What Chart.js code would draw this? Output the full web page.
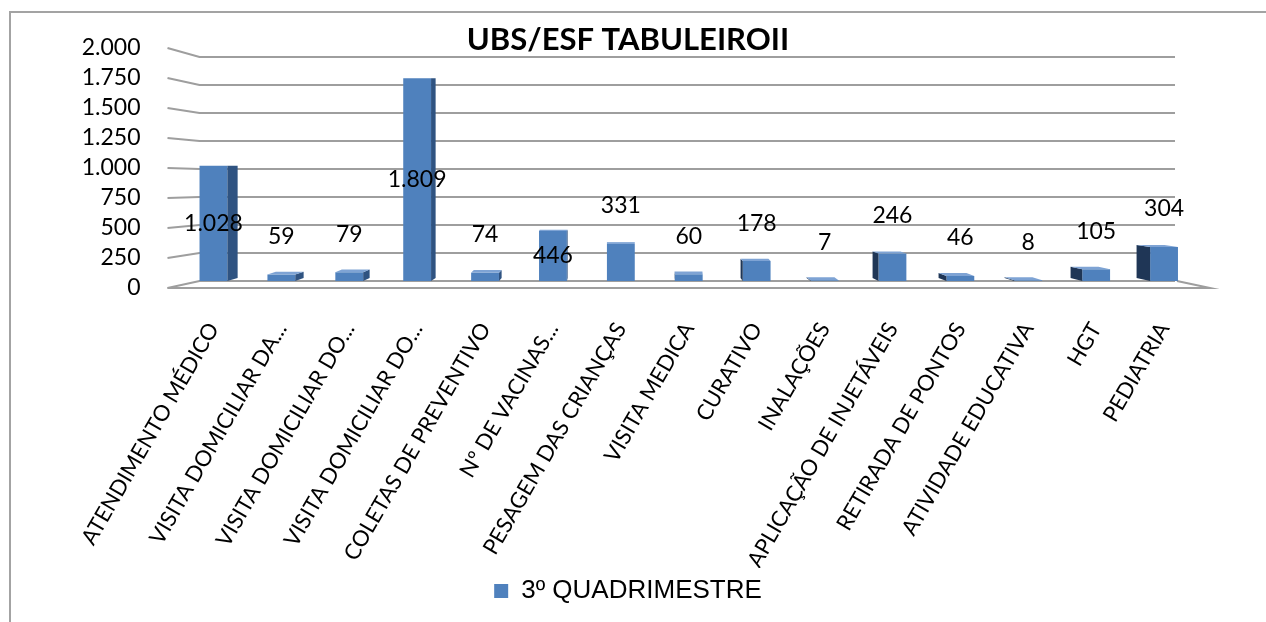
<!DOCTYPE html>
<html>
<head>
<meta charset="utf-8">
<title>UBS/ESF TABULEIROII</title>
<script src="https://cdn.jsdelivr.net/npm/chart.js@4"></script>
<style>
  body { margin: 0; background: #fff; }
</style>
</head>
<body>
<canvas id="chart" width="1266" height="622"></canvas>
<script>
const categories = [
  "ATENDIMENTO MÉDICO",
  "VISITA DOMICILIAR DA...",
  "VISITA DOMICILIAR DO...",
  "VISITA DOMICILIAR DO...",
  "COLETAS DE PREVENTIVO",
  "Nº DE VACINAS...",
  "PESAGEM DAS CRIANÇAS",
  "VISITA MEDICA",
  "CURATIVO",
  "INALAÇÕES",
  "APLICAÇÃO DE INJETÁVEIS",
  "RETIRADA DE PONTOS",
  "ATIVIDADE EDUCATIVA",
  "HGT",
  "PEDIATRIA"
];
const seriesName = "3º QUADRIMESTRE";
const values = [1028, 59, 79, 1809, 74, 446, 331, 60, 178, 7, 246, 46, 8, 105, 304];
const yTicks = [0, 250, 500, 750, 1000, 1250, 1500, 1750, 2000];

const fmt = v => String(v).replace(/\B(?=(\d{3})+(?!\d))/g, ".");

// fake 3D: grid with perspective stubs, bar sides and labels
const bar3d = {
  id: "bar3d",
  beforeDraw(chart) {
    const ctx = chart.ctx;
    ctx.save();
    ctx.strokeStyle = "#a3a3a3";
    ctx.lineWidth = 2;
    ctx.beginPath();
    ctx.moveTo(10, chart.height);
    ctx.lineTo(10, 12);
    ctx.lineTo(chart.width, 12);
    ctx.stroke();
    ctx.restore();
  },
  beforeDatasetsDraw(chart) {
    const ctx = chart.ctx, a = chart.chartArea;
    const yf = chart.scales.y, yb = chart.scales.yb;
    const backL = a.left + 20, backR = a.right - 23;
    const frontL = a.left - 12, frontR = a.right + 12;
    ctx.save();
    ctx.strokeStyle = "#9e9e9e";
    ctx.lineWidth = 2;
    yTicks.forEach(v => {
      const fy = yf.getPixelForValue(v), by = yb.getPixelForValue(v);
      ctx.beginPath();
      ctx.moveTo(frontL, fy);
      ctx.lineTo(backL, by);
      ctx.lineTo(backR, by);
      ctx.stroke();
    });
    const f0 = yf.getPixelForValue(0), b0 = yb.getPixelForValue(0);
    ctx.beginPath();
    ctx.moveTo(frontL, f0);
    ctx.lineTo(frontR, f0);
    ctx.lineTo(backR + 2, b0);
    ctx.stroke();
    ctx.restore();
  },
  afterDatasetsDraw(chart) {
    const ctx = chart.ctx;
    const vp = 630, eye = 183;
    const meta = chart.getDatasetMeta(0);
    ctx.save();
    meta.data.forEach((bar, i) => {
      const p = bar.getProps(["x", "y", "base", "width"], true);
      const xl = p.x - p.width / 2, xr = p.x + p.width / 2;
      const d = Math.max(0, Math.abs(p.x - vp) - 50) * 0.028;
      const t = Math.max(0, p.y - eye) * 0.03;
      const tb = Math.max(0, p.base - eye) * 0.03;
      const dir = p.x < vp ? 1 : -1;
      const edge = dir > 0 ? xr : xl;
      if (d > 0) {
        ctx.fillStyle = dir > 0 ? "#2f5381" : "#1f3656";
        ctx.beginPath();
        ctx.moveTo(edge, p.y);
        ctx.lineTo(edge + dir * d, p.y - t);
        ctx.lineTo(edge + dir * d, p.base - tb);
        ctx.lineTo(edge, p.base);
        ctx.closePath();
        ctx.fill();
      }
      if (t > 0) {
        ctx.fillStyle = "#7ea3d4";
        ctx.beginPath();
        ctx.moveTo(xl, p.y);
        ctx.lineTo(xl + dir * d, p.y - t);
        ctx.lineTo(xr + dir * d, p.y - t);
        ctx.lineTo(xr, p.y);
        ctx.closePath();
        ctx.fill();
      }
    });
    ctx.fillStyle = "#000";
    ctx.font = "23px Lato";
    ctx.textAlign = "center";
    ctx.textBaseline = "middle";
    meta.data.forEach((bar, i) => {
      const p = bar.getProps(["x", "y", "base"], true);
      const y = values[i] > 400 ? (p.y + p.base) / 2 : p.y - 38;
      ctx.fillText(fmt(values[i]), p.x, y);
    });
    ctx.restore();
  }
};

new Chart(document.getElementById("chart"), {
  type: "bar",
  data: {
    labels: categories,
    datasets: [{
      label: seriesName,
      data: values,
      yAxisID: "yb",
      backgroundColor: "#4f81bd",
      borderWidth: 0,
      categoryPercentage: 1,
      barPercentage: 0.41
    }]
  },
  options: {
    responsive: false,
    animation: false,
    layout: { padding: { left: 58, right: 68, top: 0, bottom: 8 } },
    plugins: {
      title: {
        display: true,
        text: "UBS/ESF TABULEIROII",
        color: "#000",
        font: { family: "Lato", size: 31, weight: "bold", lineHeight: 1 },
        padding: { top: 24, bottom: -7 }
      },
      legend: {
        position: "bottom",
        labels: {
          color: "#000",
          font: { family: "Liberation Sans", size: 26 },
          boxWidth: 14,
          boxHeight: 14,
          padding: 10
        }
      },
      tooltip: { enabled: false }
    },
    scales: {
      x: {
        grid: { display: false, drawTicks: false },
        border: { display: false },
        ticks: {
          color: "#000",
          font: { family: "Lato", size: 22 },
          minRotation: 60,
          maxRotation: 60,
          autoSkip: false,
          padding: 30
        },
        afterFit(s) { s.height = 280; }
      },
      y: {
        position: "left",
        min: 0,
        max: 2000,
        grid: { display: true, color: "transparent", drawTicks: true, tickLength: 34 },
        border: { display: false },
        ticks: {
          stepSize: 250,
          autoSkip: false,
          color: "#000",
          font: { family: "Lato", size: 23 },
          padding: 5,
          callback: v => fmt(v)
        },
        afterFit(s) { s.width = 121.5; }
      },
      yb: {
        display: false,
        min: -62,
        max: 2080
      }
    }
  },
  plugins: [bar3d]
});
</script>
</body>
</html>
